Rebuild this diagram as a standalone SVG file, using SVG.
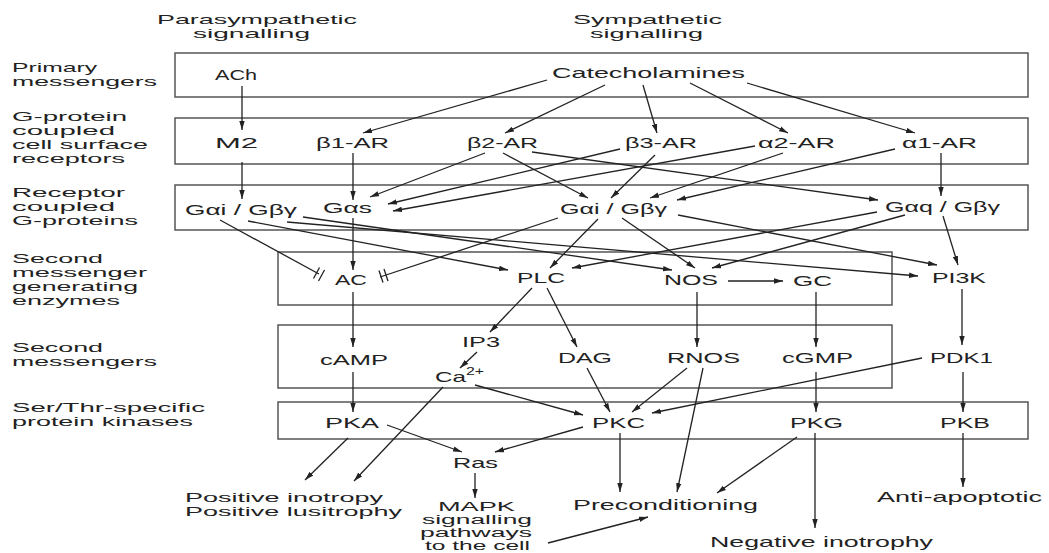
<svg xmlns="http://www.w3.org/2000/svg" width="1049" height="553" viewBox="0 0 1049 553">
<defs>
<marker id="ah" viewBox="0 0 10 6" refX="10" refY="3" markerWidth="9" markerHeight="6" markerUnits="userSpaceOnUse" orient="auto">
<path d="M0,0 L10,3 L0,6 z" fill="#222"/>
</marker>
<style>
text{font-family:"Liberation Sans",Arial,sans-serif;font-size:15px;fill:#222}
.s{font-size:13px}
.m{font-size:12.5px}
.box{fill:none;stroke:#555;stroke-width:1.5}
.c line,.c path{stroke:#222;stroke-width:1.3;fill:none}
.a{marker-end:url(#ah)}
.bar{stroke:#222;stroke-width:1.3}
</style>
</defs>
<rect width="1049" height="553" fill="#fff"/>

<g id="boxes">
<rect class="box" x="175" y="53" width="853" height="44"/>
<rect class="box" x="175" y="118" width="853" height="46"/>
<rect class="box" x="175" y="185" width="853" height="45"/>
<rect class="box" x="278" y="252" width="614" height="53"/>
<rect class="box" x="278" y="325" width="614" height="63"/>
<rect class="box" x="278" y="402" width="750" height="37"/>
</g>

<g id="headers">
<text class="s" x="157" y="24" textLength="200" lengthAdjust="spacingAndGlyphs">Parasympathetic</text>
<text class="s" x="193" y="38" textLength="117" lengthAdjust="spacingAndGlyphs">signalling</text>
<text class="s" x="573" y="24" textLength="149" lengthAdjust="spacingAndGlyphs">Sympathetic</text>
<text class="s" x="590" y="38" textLength="113" lengthAdjust="spacingAndGlyphs">signalling</text>
</g>

<g id="row-labels">
<text class="s" x="12" y="72" textLength="85" lengthAdjust="spacingAndGlyphs">Primary</text>
<text class="s" x="12" y="86" textLength="145" lengthAdjust="spacingAndGlyphs">messengers</text>
<text class="s" x="12" y="121" textLength="115" lengthAdjust="spacingAndGlyphs">G-protein</text>
<text class="s" x="12" y="135" textLength="103" lengthAdjust="spacingAndGlyphs">coupled</text>
<text class="s" x="12" y="149" textLength="136" lengthAdjust="spacingAndGlyphs">cell surface</text>
<text class="s" x="12" y="163" textLength="113" lengthAdjust="spacingAndGlyphs">receptors</text>
<text class="s" x="12" y="197" textLength="113" lengthAdjust="spacingAndGlyphs">Receptor</text>
<text class="s" x="12" y="211" textLength="103" lengthAdjust="spacingAndGlyphs">coupled</text>
<text class="s" x="12" y="225" textLength="126" lengthAdjust="spacingAndGlyphs">G-proteins</text>
<text class="s" x="12" y="263" textLength="91" lengthAdjust="spacingAndGlyphs">Second</text>
<text class="s" x="12" y="277" textLength="135" lengthAdjust="spacingAndGlyphs">messenger</text>
<text class="s" x="12" y="291" textLength="126" lengthAdjust="spacingAndGlyphs">generating</text>
<text class="s" x="12" y="305" textLength="108" lengthAdjust="spacingAndGlyphs">enzymes</text>
<text class="s" x="12" y="352" textLength="91" lengthAdjust="spacingAndGlyphs">Second</text>
<text class="s" x="12" y="366" textLength="145" lengthAdjust="spacingAndGlyphs">messengers</text>
<text class="s" x="12" y="412" textLength="193" lengthAdjust="spacingAndGlyphs">Ser/Thr-specific</text>
<text class="s" x="12" y="426" textLength="181" lengthAdjust="spacingAndGlyphs">protein kinases</text>
</g>

<g id="n-ach"><text x="215" y="80" textLength="42" lengthAdjust="spacingAndGlyphs">ACh</text></g>
<g id="n-cat"><text x="552" y="78" textLength="193" lengthAdjust="spacingAndGlyphs">Catecholamines</text></g>
<g id="n-m2"><text x="215" y="148" textLength="43" lengthAdjust="spacingAndGlyphs">M2</text></g>
<g id="n-b1ar"><text x="316" y="148" textLength="73" lengthAdjust="spacingAndGlyphs">β1-AR</text></g>
<g id="n-b2ar"><text x="467" y="148" textLength="71" lengthAdjust="spacingAndGlyphs">β2-AR</text></g>
<g id="n-b3ar"><text x="625" y="148" textLength="72" lengthAdjust="spacingAndGlyphs">β3-AR</text></g>
<g id="n-a2ar"><text x="758" y="148" textLength="77" lengthAdjust="spacingAndGlyphs">α2-AR</text></g>
<g id="n-a1ar"><text x="902" y="148" textLength="75" lengthAdjust="spacingAndGlyphs">α1-AR</text></g>
<g id="n-gai1"><text x="185" y="215" textLength="112" lengthAdjust="spacingAndGlyphs">Gαi / Gβγ</text></g>
<g id="n-gas"><text x="323" y="213" textLength="49" lengthAdjust="spacingAndGlyphs">Gαs</text></g>
<g id="n-gai2"><text x="560" y="214" textLength="107" lengthAdjust="spacingAndGlyphs">Gαi / Gβγ</text></g>
<g id="n-gaq"><text x="885" y="212" textLength="115" lengthAdjust="spacingAndGlyphs">Gαq / Gβγ</text></g>
<g id="n-ac"><text x="335" y="285" textLength="32" lengthAdjust="spacingAndGlyphs">AC</text></g>
<g id="n-plc"><text x="517" y="283" textLength="48" lengthAdjust="spacingAndGlyphs">PLC</text></g>
<g id="n-nos"><text x="664" y="285" textLength="54" lengthAdjust="spacingAndGlyphs">NOS</text></g>
<g id="n-gc"><text x="793" y="286" textLength="39" lengthAdjust="spacingAndGlyphs">GC</text></g>
<g id="n-pi3k"><text x="932" y="283" textLength="54" lengthAdjust="spacingAndGlyphs">PI3K</text></g>
<g id="n-camp"><text x="320" y="365" textLength="68" lengthAdjust="spacingAndGlyphs">cAMP</text></g>
<g id="n-ip3"><text x="462" y="347" textLength="38" lengthAdjust="spacingAndGlyphs">IP3</text></g>
<g id="n-ca"><text x="435" y="382" textLength="31" lengthAdjust="spacingAndGlyphs">Ca</text><text x="466" y="375" style="font-size:11px" textLength="18" lengthAdjust="spacingAndGlyphs">2+</text></g>
<g id="n-dag"><text x="558" y="363" textLength="54" lengthAdjust="spacingAndGlyphs">DAG</text></g>
<g id="n-rnos"><text x="667" y="363" textLength="73" lengthAdjust="spacingAndGlyphs">RNOS</text></g>
<g id="n-cgmp"><text x="782" y="363" textLength="71" lengthAdjust="spacingAndGlyphs">cGMP</text></g>
<g id="n-pdk1"><text x="930" y="363" textLength="63" lengthAdjust="spacingAndGlyphs">PDK1</text></g>
<g id="n-pka"><text x="325" y="428" textLength="54" lengthAdjust="spacingAndGlyphs">PKA</text></g>
<g id="n-pkc"><text x="592" y="428" textLength="53" lengthAdjust="spacingAndGlyphs">PKC</text></g>
<g id="n-pkg"><text x="790" y="428" textLength="53" lengthAdjust="spacingAndGlyphs">PKG</text></g>
<g id="n-pkb"><text x="940" y="428" textLength="50" lengthAdjust="spacingAndGlyphs">PKB</text></g>
<g id="n-ras"><text x="453" y="468" textLength="45" lengthAdjust="spacingAndGlyphs">Ras</text></g>
<g id="n-pos"><text class="s" x="185" y="502" textLength="198" lengthAdjust="spacingAndGlyphs">Positive inotropy</text><text class="s" x="185" y="516" textLength="217" lengthAdjust="spacingAndGlyphs">Positive lusitrophy</text></g>
<g id="n-mapk"><text class="m" x="438" y="511" textLength="77" lengthAdjust="spacingAndGlyphs">MAPK</text><text class="m" x="422" y="524" textLength="110" lengthAdjust="spacingAndGlyphs">signalling</text><text class="m" x="420" y="537" textLength="112" lengthAdjust="spacingAndGlyphs">pathways</text><text class="m" x="425" y="550" textLength="105" lengthAdjust="spacingAndGlyphs">to the cell</text></g>
<g id="n-precond"><text x="573" y="510" textLength="185" lengthAdjust="spacingAndGlyphs">Preconditioning</text></g>
<g id="n-anti"><text x="877" y="502" textLength="165" lengthAdjust="spacingAndGlyphs">Anti-apoptotic</text></g>
<g id="n-negino"><text x="710" y="547" textLength="223" lengthAdjust="spacingAndGlyphs">Negative inotrophy</text></g>

<g id="connectors" class="c">
<line class="a" x1="242" y1="86" x2="242" y2="130"/>
<line class="a" x1="242" y1="162" x2="242" y2="199"/>
<line class="a" x1="547" y1="80" x2="363" y2="133"/>
<line class="a" x1="605" y1="85" x2="505" y2="133"/>
<line class="a" x1="643" y1="85" x2="657" y2="133"/>
<line class="a" x1="690" y1="83" x2="788" y2="133"/>
<line class="a" x1="747" y1="83" x2="915" y2="133"/>
<line class="a" x1="353" y1="153" x2="353" y2="200"/>
<line class="a" x1="485" y1="153" x2="370" y2="197"/>
<line class="a" x1="620" y1="149" x2="388" y2="204"/>
<line class="a" x1="755" y1="146" x2="393" y2="211"/>
<line class="a" x1="503" y1="153" x2="588" y2="198"/>
<line class="a" x1="655" y1="155" x2="611" y2="198"/>
<line class="a" x1="783" y1="153" x2="650" y2="198"/>
<line class="a" x1="895" y1="149" x2="677" y2="200"/>
<line class="a" x1="532" y1="152" x2="878" y2="200"/>
<line class="a" x1="941" y1="153" x2="941" y2="196"/>
<line x1="220" y1="220" x2="319" y2="274"/>
<line class="bar" x1="313.5" y1="278.5" x2="319.5" y2="267.5"/>
<line class="bar" x1="318.5" y1="281" x2="324.5" y2="270"/>
<line x1="558" y1="218" x2="380" y2="277"/>
<line class="bar" x1="379" y1="270.5" x2="383" y2="282.5"/>
<line class="bar" x1="384" y1="269" x2="388" y2="281"/>
<line class="a" x1="353" y1="218" x2="353" y2="270"/>
<line class="a" x1="248" y1="221" x2="508" y2="270"/>
<line class="a" x1="287" y1="222" x2="918" y2="276"/>
<line class="a" x1="303" y1="217" x2="672" y2="270"/>
<line class="a" x1="598" y1="219" x2="550" y2="268"/>
<line class="a" x1="622" y1="218" x2="695" y2="268"/>
<line class="a" x1="678" y1="215" x2="937" y2="265"/>
<line class="a" x1="877" y1="212" x2="572" y2="268"/>
<line class="a" x1="905" y1="215" x2="712" y2="268"/>
<line class="a" x1="943" y1="216" x2="958" y2="265"/>
<line class="a" x1="353" y1="292" x2="353" y2="347"/>
<line class="a" x1="532" y1="288" x2="490" y2="332"/>
<line class="a" x1="547" y1="288" x2="577" y2="347"/>
<line class="a" x1="477" y1="352" x2="460" y2="368"/>
<line class="a" x1="728" y1="281" x2="783" y2="281"/>
<line class="a" x1="697" y1="292" x2="697" y2="347"/>
<line class="a" x1="816" y1="292" x2="816" y2="347"/>
<line class="a" x1="962" y1="289" x2="962" y2="345"/>
<line class="a" x1="353" y1="372" x2="353" y2="412"/>
<line class="a" x1="475" y1="385" x2="583" y2="415"/>
<line class="a" x1="443" y1="387" x2="354" y2="481"/>
<line class="a" x1="587" y1="368" x2="610" y2="412"/>
<line class="a" x1="687" y1="368" x2="632" y2="412"/>
<line class="a" x1="703" y1="368" x2="677" y2="492"/>
<line class="a" x1="922" y1="358" x2="652" y2="413"/>
<line class="a" x1="816" y1="372" x2="816" y2="412"/>
<line class="a" x1="963" y1="372" x2="963" y2="412"/>
<line class="a" x1="348" y1="438" x2="305" y2="480"/>
<line class="a" x1="387" y1="425" x2="462" y2="452"/>
<line class="a" x1="583" y1="427" x2="495" y2="452"/>
<line class="a" x1="475" y1="473" x2="475" y2="498"/>
<line class="a" x1="620" y1="433" x2="620" y2="492"/>
<line class="a" x1="797" y1="437" x2="717" y2="493"/>
<line class="a" x1="815" y1="433" x2="815" y2="528"/>
<line class="a" x1="963" y1="433" x2="963" y2="487"/>
<line class="a" x1="548" y1="543" x2="648" y2="517"/>
</g>
</svg>
